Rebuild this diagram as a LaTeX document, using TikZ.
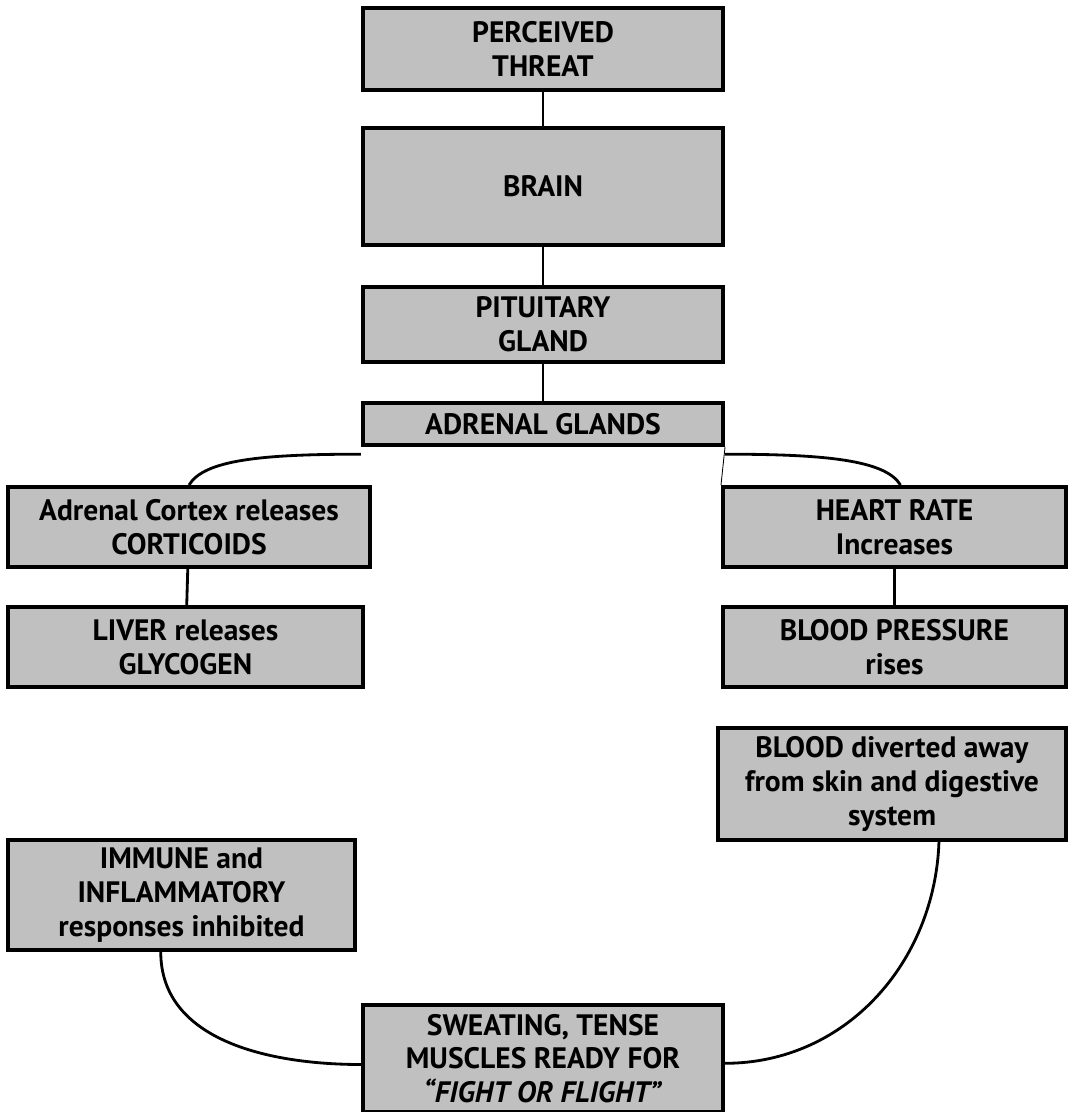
\documentclass[tikz,border=0pt]{standalone}
\usepackage{fontspec}
\setmainfont{PT Sans}
\definecolor{boxgray}{RGB}{192,192,192}
\tikzset{
  stage/.style={rectangle,draw,line width=2.8pt,fill=boxgray,align=center,
    inner sep=2pt,font=\fontsize{21}{24}\selectfont\bfseries},
  link/.style={line width=2pt},
}
\begin{document}
\begin{tikzpicture}[x=0.025cm,y=-0.025cm]

      \useasboundingbox (0,0) rectangle (1071,1112);

      \begin{scope}[every node/.style={stage}]
        \node[minimum width=9cm,minimum height=2.05cm] (threat) at (543,49) {PERCEIVED\\THREAT};
        \node[minimum width=9cm,minimum height=2.925cm] (brain) at (543,186.5) {BRAIN};
        \node[minimum width=9cm,minimum height=1.875cm] (pit) at (543,324.5) {PITUITARY\\GLAND};
        \node[minimum width=9cm,minimum height=1.05cm] (adrenal) at (543,424) {ADRENAL GLANDS};
        \node[minimum width=9.05cm,minimum height=2cm] (cortex) at (189,527) {Adrenal Cortex releases\\CORTICOIDS};
        \node[minimum width=8.875cm,minimum height=2cm] (liver) at (185.5,647) {LIVER releases\\GLYCOGEN};
        \node[minimum width=8.575cm,minimum height=2cm] (heart) at (894.5,527) {HEART RATE\\Increases};
        \node[minimum width=8.575cm,minimum height=2cm] (bp) at (894.5,647) {BLOOD PRESSURE\\rises};
        \node[minimum width=8.7cm,minimum height=2.8cm] (diverted) at (892,784) {BLOOD diverted away\\from skin and digestive\\system};
        \node[minimum width=8.675cm,minimum height=2.75cm] (immune) at (181.5,895) {IMMUNE and\\INFLAMMATORY\\responses inhibited};
        \node[minimum width=9cm,minimum height=2.675cm] (sweat) at (543,1058.5) {SWEATING, TENSE\\MUSCLES READY FOR\\\textit{``FIGHT OR FLIGHT''}};
      \end{scope}

      \begin{scope}[every path/.style={link}]
        \path (threat) edge (brain);
        \path (brain) edge (pit);
        \path (pit) edge (adrenal);
        \path (cortex) edge (liver);
        \path (heart) edge (bp);
        \draw ([yshift=-0.18cm]adrenal.south west) .. controls +(-100,0) and +(15,-25) .. (cortex.north);
        \draw ([yshift=-0.18cm]adrenal.south east) .. controls +(100,0) and +(-15,-25) .. ([xshift=0.15cm]heart.north);
        \draw (immune.-110) to[out=-90,in=180] ([yshift=-0.15cm]sweat.west);
        \draw (diverted.-51) to[out=-92,in=0] ([yshift=-0.12cm]sweat.east);
      \end{scope}

      \draw[line width=0.6pt] (adrenal.south east) -- (heart.north west);

    \end{tikzpicture}
\end{document}
